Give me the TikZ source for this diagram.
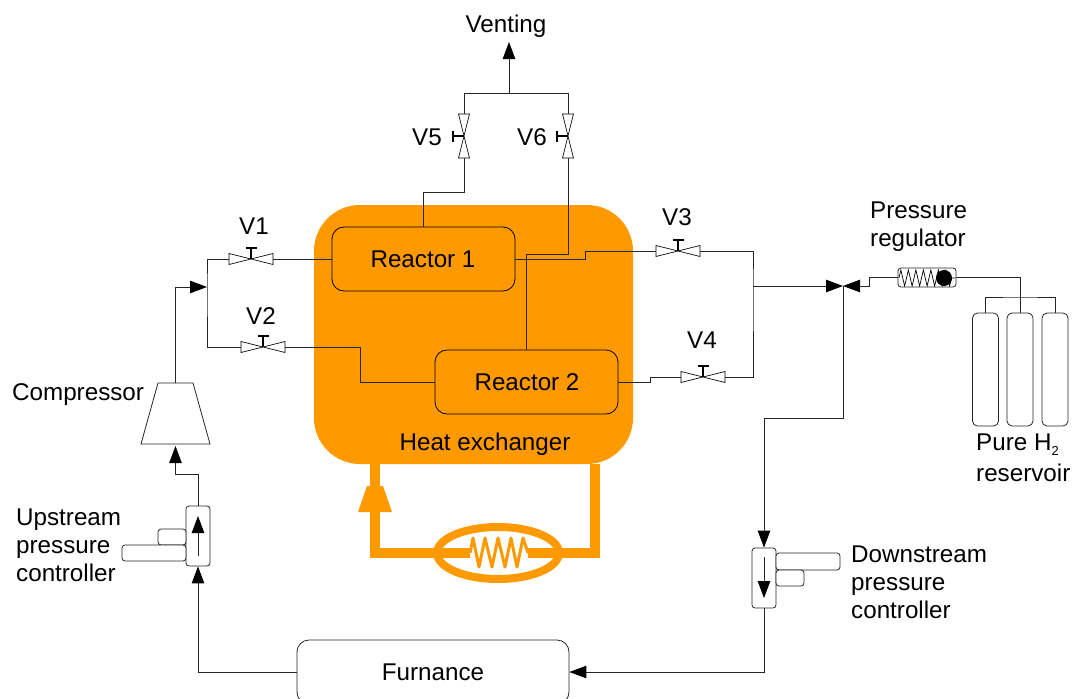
\documentclass[tikz,border=0pt]{standalone}
\usepackage{fontspec}
\setmainfont{Liberation Sans}
\usetikzlibrary{positioning,shapes.geometric,arrows.meta,decorations.pathmorphing}
\definecolor{heat}{HTML}{FF9900}
\tikzstyle{pipe} = [line width=0.9pt,black!85]
\tikzstyle{arrow} = [pipe,-{Triangle[length=17pt,width=12.5pt,black]}]
\tikzstyle{heatline} = [line width=10pt,heat]
\tikzstyle{reactor} = [rectangle, rounded corners=12pt, draw=black, line width=0.8pt, minimum width=183pt, minimum height=64pt, inner sep=0pt]
\tikzstyle{box} = [rectangle, rounded corners=3pt, draw=black!85, fill=white, line width=0.8pt, inner sep=0pt]
\tikzstyle{cylinder} = [rectangle, rounded corners=5pt, draw=black!85, line width=0.8pt, minimum width=26pt, minimum height=113pt, inner sep=0pt]
\tikzstyle{label text} = [inner sep=0pt, align=left, font=\fontsize{24.2}{27.8}\selectfont]
\tikzset{
	hvalve/.pic={
		\draw [line width=0.7pt,fill=white] (-22,-5.5) -- (22,5.5) -- (22,-5.5) -- (-22,5.5) -- cycle;
		\draw [line width=1.7pt] (0,0) -- (0,-11) (-5.5,-11) -- (5.5,-11);
		\coordinate (-l) at (-22,0);
		\coordinate (-r) at (22,0);
	},
	vvalve/.pic={
		\draw [line width=0.7pt,fill=white] (-5.5,-22) -- (5.5,22) -- (-5.5,22) -- (5.5,-22) -- cycle;
		\draw [line width=1.7pt] (0,0) -- (-11,0) (-11,-5.5) -- (-11,5.5);
		\coordinate (-t) at (0,-22);
		\coordinate (-b) at (0,22);
	}
}
\begin{document}
\begin{tikzpicture}[x=1pt,y=-1pt]
	\useasboundingbox (0,0) rectangle (1072,699);
	
	\node (heat-exchanger) [rectangle, rounded corners=46pt, fill=heat, minimum width=319pt, minimum height=259pt, inner sep=0pt] at (473.5,334.5) {};
	\node (reactor-1) [reactor] at (423.5,259) {};
	\node (reactor-2) [reactor] at (526.5,382) {};
	\node (furnace) [box, rounded corners=12pt, minimum width=272pt, minimum height=64pt] at (433,672) {};
	\node (compressor) [rectangle, minimum width=69pt, minimum height=61pt, inner sep=0pt, outer sep=0pt] at (175.5,413.5) {};
	\draw [draw=black!85, line width=0.8pt] (compressor.south west) -- (compressor.south east) -- ([xshift=-17pt]compressor.north east) -- ([xshift=17pt]compressor.north west) -- cycle;
	\node (pump) [rectangle, minimum width=34pt, minimum height=26pt, inner sep=0pt, outer sep=0pt] at (375,499) {};
	\fill [heat] (pump.south west) -- (pump.south east) -- ([xshift=-9pt]pump.north east) -- ([xshift=9pt]pump.north west) -- cycle;
	\node (heater) [ellipse, draw=heat, line width=8pt, minimum width=122pt, minimum height=52pt, inner sep=0pt, outer sep=0pt] at (498,553) {};
	
	\node (up-control) [box, minimum width=24pt, minimum height=60pt] at (198,536) {};
	\node (up-small) [box, minimum width=28pt, minimum height=16pt] at (172,537) {};
	\node (up-long) [box, minimum width=64pt, minimum height=16pt] at (154,553) {};
	\node (down-control) [box, minimum width=24pt, minimum height=60pt] at (764,578) {};
	\node (down-long) [box, minimum width=64pt, minimum height=17pt] at (808,561.5) {};
	\node (down-small) [box, minimum width=28pt, minimum height=16pt] at (790,578) {};
	
	\node (regulator) [box, minimum width=58pt, minimum height=19pt] at (927,277.5) {};
	\node (cyl-1) [cylinder] at (985.5,369.5) {};
	\node (cyl-2) [cylinder] at (1020,369.5) {};
	\node (cyl-3) [cylinder] at (1055,369.5) {};
	
	\pic (v1) at (251,259) {hvalve};
	\pic (v2) at (263,347) {hvalve};
	\pic (v3) at (678,251) {hvalve};
	\pic (v4) at (703,377) {hvalve};
	\pic (v5) at (464,136) {vvalve};
	\pic (v6) at (568,136) {vvalve};
	
	\coordinate (vent-split) at (509,93);
	\coordinate (vent-top) at (509,42);
	\coordinate (feed) at (207,287);
	\coordinate (join) at (843,286);
	\coordinate (right-split) at (753,286);
	\coordinate (pipe-top) at (1020,297);
	\coordinate (loop-left) at (375,464);
	\coordinate (loop-right) at (595,464);
	\coordinate (heat-left) at (470,553);
	\coordinate (heat-right) at (528,553);
	
	\draw [pipe] (v5-t) -- +(0,-21) -| (v6-t);
	\draw [arrow] (vent-split) -- (vent-top);
	\draw [pipe] (v5-b) -- +(0,34) -| (reactor-1.north);
	\draw [pipe] (v6-b) -- +(0,96) -| (reactor-2.north);
	
	\draw [pipe] (reactor-1.west) -- (v1-r);
	\draw [pipe] (v1-l) -| (feed) |- (v2-l);
	\draw [pipe] (v2-r) -- +(75,0) |- (reactor-2.west);
	\draw [pipe] (reactor-1.east) -- +(70,0) |- (v3-l);
	\draw [pipe] (reactor-2.east) -- +(32,0) |- (v4-l);
	\draw [pipe] (v3-r) -| (right-split) |- (v4-r);
	
	\draw [arrow] (compressor.north) |- (feed);
	\draw [arrow,shorten >=2pt] (up-control.north) -- +(0,-31) -| (compressor.south);
	\draw [arrow] (furnace.west) -| (up-control.south);
	\draw [arrow] (down-control.south) |- (furnace.east);
	\draw [arrow] (join) -- +(0,132) -| (down-control.north);
	\draw [arrow] (right-split) -- (join);
	\draw [arrow] (regulator.west) -- +(-28,0) |- (join);
	\draw [pipe] (regulator.east) -| (cyl-2.north);
	\draw [pipe] (cyl-1.north) |- (pipe-top) -| (cyl-3.north);
	
	\coordinate (up-arrow-start) at (198,556);
	\coordinate (up-arrow-end) at (198,516);
	\coordinate (down-arrow-start) at (764,557);
	\coordinate (down-arrow-end) at (764,598);
	\draw [arrow] (up-arrow-start) -- (up-arrow-end);
	\draw [arrow] (down-arrow-start) -- (down-arrow-end);
	\draw [black, line width=0.7pt, decorate, decoration={zigzag, segment length=7.5pt, amplitude=8pt}] (899,278) -- (955,278);
	\fill [black] (944,278) circle (8);
	
	\draw [heatline] (loop-left) |- (heat-left);
	\draw [heatline] (loop-right) |- (heat-right);
	\draw [heat, line width=3pt, line join=round] (heat-left) -- (473,538) -- (479,567) -- (485,538) -- (492,567) -- (498,538) -- (505,567) -- (511,538) -- (517,567) -- (523,538) -- (heat-right);
	
	\node (venting) [label text] at (506,26.5) {Venting};
	\node (v1-label) [label text] at (254,226) {V1};
	\node (v2-label) [label text] at (261,316) {V2};
	\node (v3-label) [label text] at (677,217) {V3};
	\node (v4-label) [label text] at (702,340) {V4};
	\node (v5-label) [label text] at (427,137) {V5};
	\node (v6-label) [label text] at (532,137) {V6};
	\node (reactor-1-label) [label text] at (423,259) {Reactor 1};
	\node (reactor-2-label) [label text] at (527,382) {Reactor 2};
	\node (heat-label) [label text] at (485,444) {Heat exchanger};
	\node (furnace-label) [label text] at (433,672) {Furnance};
	\node (compressor-label) [label text,anchor=west] at (12,395) {Compressor};
	\node (pressure-label) [label text,anchor=west] at (870,226.5) {Pressure\\regulator};
	\node (reservoir-label) [label text,anchor=west] at (976,457.5) {Pure H\raisebox{-5pt}{\fontsize{13}{13}\selectfont 2}\\[3pt]reservoir};
	\node (up-label) [label text,anchor=west] at (16,545.5) {Upstream\\pressure\\controller};
	\node (down-label) [label text,anchor=west] at (851,582.5) {Downstream\\pressure\\controller};
\end{tikzpicture}
\end{document}
